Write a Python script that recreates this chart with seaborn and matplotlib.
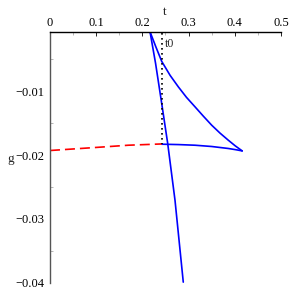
import matplotlib
matplotlib.use("Agg")
import matplotlib.pyplot as plt
import seaborn as sns
import pandas as pd
from matplotlib.ticker import MultipleLocator

# values
steep_t = [0.2165, 0.2285, 0.2418, 0.2548, 0.2706, 0.2885]
steep_g = [-0.00066, -0.00560, -0.01190, -0.01818, -0.02708, -0.03991]

upper_t = [0.2165, 0.2290, 0.2418, 0.2600, 0.2777, 0.2955, 0.3139, 0.3320,
           0.3500, 0.3680, 0.3859, 0.4010, 0.4160]
upper_g = [-0.00066, -0.00300, -0.00530, -0.00750, -0.00929, -0.01095, -0.01243,
           -0.01390, -0.01531, -0.01655, -0.01766, -0.01855, -0.01934]

flat_t = [0.2418, 0.2780, 0.3139, 0.3500, 0.3859, 0.4020, 0.4160]
flat_g = [-0.01829, -0.01835, -0.01845, -0.01865, -0.01896, -0.01915, -0.01934]

red_t = [0.0, 0.0974, 0.1695, 0.2381, 0.2424]
red_g = [-0.01928, -0.01881, -0.01845, -0.01826, -0.01825]

t0 = 0.2424
t0_g = [0.0, -0.01825]

x_ticks = [0, 0.1, 0.2, 0.3, 0.4, 0.5]
y_ticks = [-0.01, -0.02, -0.03, -0.04]

sns.set_theme(style="white")
plt.rcParams['font.family'] = ['Liberation Serif', 'DejaVu Serif']

fig = plt.figure(figsize=(2.93, 2.93), dpi=100)
ax = fig.add_axes([0.1706, 0.0352, 0.7884, 0.8556])

def curve(t, g, **kw):
    df = pd.DataFrame({'t': t, 'g': g})
    sns.lineplot(data=df, x='t', y='g', sort=False, estimator=None, ax=ax, **kw)

curve(steep_t, steep_g, color='#0000ff', linewidth=1.2)
curve(upper_t, upper_g, color='#0000ff', linewidth=1.2)
curve(flat_t, flat_g, color='#0000ff', linewidth=1.2)
curve(red_t, red_g, color='#ff0000', linewidth=1.2)
ax.lines[-1].set_dashes([6, 3])
ax.plot([t0, t0], t0_g, color='black', linestyle=(0, (1, 2)), linewidth=1.2)
ax.text(t0 + 0.006, -0.0035, 't0', fontsize=8.5, ha='left', va='bottom')

ax.set_xlim(0, 0.5)
ax.set_ylim(-0.04, -0.0007)
ax.set_xticks(x_ticks)
ax.set_xticklabels(['0', '0.1', '0.2', '0.3', '0.4', '0.5'])
ax.set_yticks(y_ticks)
ax.set_yticklabels(['\u22120.01', '\u22120.02', '\u22120.03', '\u22120.04'])
ax.xaxis.set_minor_locator(MultipleLocator(0.05))
ax.yaxis.set_minor_locator(MultipleLocator(0.005))
ax.xaxis.tick_top()
ax.tick_params(axis='x', which='major', direction='in', length=3, width=0.6,
               labelsize=9, pad=2, colors='black')
ax.tick_params(axis='x', which='minor', direction='in', length=2, width=0.5,
               color='#999999', top=True)
ax.tick_params(axis='y', which='major', direction='out', length=3, width=0.6,
               labelsize=9, pad=1, colors='black')
ax.tick_params(axis='y', which='minor', direction='in', length=2, width=0.5,
               color='#999999', left=True)

for s in ['right', 'bottom']:
    ax.spines[s].set_visible(False)
ax.spines['top'].set_color('black')
ax.spines['top'].set_linewidth(1.0)
ax.spines['left'].set_color('#555555')
ax.spines['left'].set_linewidth(1.0)

ax.set_xlabel('')
ax.set_ylabel('')
fig.text(165 / 293, 1 - 12 / 293, 't', fontsize=9.5, ha='center', va='center')
fig.text(11 / 293, 1 - 159 / 293, 'g', fontsize=9.5, ha='center', va='center')

fig.savefig('out.png', dpi=100)
